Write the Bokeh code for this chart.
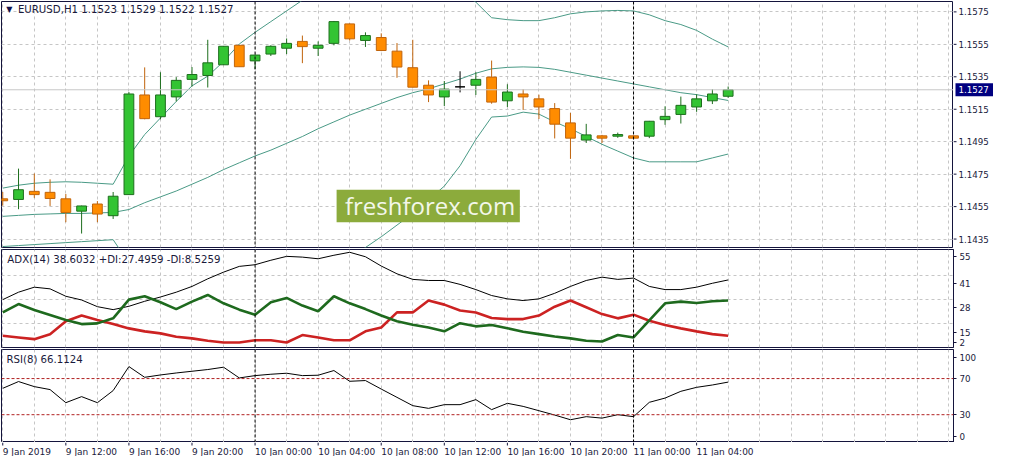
from bokeh.plotting import figure
from bokeh.layouts import column, row
from bokeh.models import (Range1d, FixedTicker, Span, Label,
                          BoxAnnotation, ColumnDataSource, Grid)
from bokeh.core.properties import value
from bokeh.embed import file_html
from bokeh.resources import INLINE

# ---------------- data (EURUSD H1, 9 Jan 08:00 .. 11 Jan 06:00) ----------------
opens = [1.14598, 1.14594, 1.14644, 1.14638, 1.14598, 1.14522, 1.14566, 1.14494, 1.14624, 1.15238,
         1.15104, 1.15226, 1.15334, 1.15358, 1.15424, 1.15544, 1.15448, 1.15490, 1.15526, 1.15568,
         1.15526, 1.15556, 1.15676, 1.15574, 1.15592, 1.15508, 1.15406, 1.15298, 1.15226, 1.15288,
         1.15298, 1.15348, 1.15202, 1.15244, 1.15214, 1.15154, 1.15066, 1.14960, 1.14986, 1.14984,
         1.14986, 1.14984, 1.15086, 1.15118, 1.15164, 1.15202, 1.15230]
highs = [1.14640, 1.14784, 1.14754, 1.14718, 1.14628, 1.14556, 1.14584, 1.14640, 1.15256, 1.15408,
         1.15378, 1.15348, 1.15410, 1.15578, 1.15540, 1.15546, 1.15486, 1.15544, 1.15586, 1.15604,
         1.15568, 1.15694, 1.15678, 1.15624, 1.15618, 1.15558, 1.15578, 1.15328, 1.15324, 1.15384,
         1.15378, 1.15450, 1.15304, 1.15274, 1.15240, 1.15188, 1.15128, 1.15060, 1.14992, 1.15006,
         1.14988, 1.15078, 1.15168, 1.15228, 1.15242, 1.15274, 1.15290]
lows = [1.14556, 1.14534, 1.14604, 1.14554, 1.14454, 1.14384, 1.14454, 1.14474, 1.14624, 1.15088,
        1.15088, 1.15198, 1.15290, 1.15284, 1.15424, 1.15412, 1.15398, 1.15478, 1.15490, 1.15434,
        1.15478, 1.15544, 1.15574, 1.15534, 1.15508, 1.15344, 1.15284, 1.15194, 1.15170, 1.15254,
        1.15238, 1.15184, 1.15164, 1.15146, 1.15090, 1.14970, 1.14844, 1.14942, 1.14942, 1.14974,
        1.14970, 1.14972, 1.15054, 1.15062, 1.15134, 1.15182, 1.15220]
closes = [1.14586, 1.14654, 1.14624, 1.14600, 1.14514, 1.14554, 1.14504, 1.14614, 1.15244, 1.15092,
          1.15238, 1.15328, 1.15364, 1.15436, 1.15538, 1.15412, 1.15484, 1.15538, 1.15556, 1.15536,
          1.15544, 1.15690, 1.15584, 1.15604, 1.15512, 1.15410, 1.15286, 1.15238, 1.15274, 1.15288,
          1.15334, 1.15194, 1.15256, 1.15226, 1.15164, 1.15058, 1.14972, 1.14992, 1.14972, 1.14994,
          1.14972, 1.15076, 1.15106, 1.15174, 1.15214, 1.15244, 1.15270]

bb_upper = [1.14664, 1.14682, 1.14694, 1.14700, 1.14703, 1.14700, 1.14694, 1.14688, 1.14862, 1.14994,
            1.15096, 1.15198, 1.15294, 1.15354, 1.15444, 1.15552, 1.15624, 1.15690, 1.15756, 1.15822,
            1.15882, 1.15942, 1.15984, 1.16002, 1.16008, 1.16008, 1.15996, 1.15960, 1.15936, 1.15870,
            1.15810, 1.15714, 1.15702, 1.15696, 1.15696, 1.15714, 1.15738, 1.15750, 1.15756, 1.15759,
            1.15756, 1.15732, 1.15696, 1.15672, 1.15636, 1.15582, 1.15534]
bb_middle = [1.14490, 1.14496, 1.14502, 1.14505, 1.14508, 1.14508, 1.14511, 1.14514, 1.14532, 1.14574,
             1.14610, 1.14646, 1.14688, 1.14730, 1.14778, 1.14820, 1.14862, 1.14898, 1.14940, 1.14982,
             1.15030, 1.15072, 1.15114, 1.15150, 1.15186, 1.15222, 1.15252, 1.15276, 1.15306, 1.15336,
             1.15372, 1.15399, 1.15408, 1.15411, 1.15408, 1.15396, 1.15378, 1.15360, 1.15342, 1.15324,
             1.15306, 1.15288, 1.15270, 1.15252, 1.15240, 1.15222, 1.15204]
bb_lower = [1.14304, 1.14310, 1.14316, 1.14322, 1.14328, 1.14334, 1.14340, 1.14346, 1.14202, 1.14154,
            1.14124, 1.14094, 1.14082, 1.14106, 1.14112, 1.14088, 1.14100, 1.14106, 1.14124, 1.14142,
            1.14178, 1.14202, 1.14244, 1.14298, 1.14364, 1.14436, 1.14508, 1.14592, 1.14676, 1.14802,
            1.14964, 1.15102, 1.15108, 1.15132, 1.15120, 1.15072, 1.15030, 1.14982, 1.14934, 1.14892,
            1.14850, 1.14826, 1.14826, 1.14826, 1.14826, 1.14850, 1.14874]

adx = [28.0, 32.0, 34.7, 33.8, 29.8, 27.8, 24.2, 22.6, 24.4, 27.1, 29.4, 32.0, 35.1, 39.2, 42.8, 45.9,
       46.8, 49.2, 51.3, 50.9, 50.0, 51.9, 53.5, 51.1, 46.1, 41.9, 38.9, 38.3, 38.3, 36.2, 33.4, 30.2,
       28.4, 27.5, 28.4, 31.4, 35.1, 38.3, 40.1, 38.9, 39.6, 35.1, 33.4, 33.4, 34.7, 36.8, 38.6]
plus_di = [21.1, 25.6, 22.4, 19.7, 17.0, 14.8, 15.2, 17.9, 28.0, 29.8, 26.6, 22.9, 26.9, 30.5, 26.0, 22.6,
           19.9, 26.6, 28.9, 24.8, 21.7, 29.8, 26.0, 22.9, 19.4, 16.3, 14.5, 13.0, 10.9, 15.3, 13.6, 14.3,
           12.6, 10.7, 9.4, 8.1, 7.1, 5.8, 5.4, 8.9, 7.6, 16.8, 26.0, 26.9, 26.2, 27.1, 27.5]
minus_di = [8.5, 7.6, 6.7, 9.4, 16.3, 19.4, 17.0, 14.8, 12.5, 10.9, 9.8, 8.0, 7.1, 5.8, 4.9, 4.9,
            6.1, 6.1, 4.9, 8.9, 7.6, 6.1, 6.1, 10.9, 13.0, 21.1, 21.1, 27.5, 25.3, 22.1, 21.1, 18.1,
            17.5, 17.5, 19.4, 24.2, 27.5, 23.9, 20.2, 17.9, 19.9, 16.6, 14.3, 12.5, 10.9, 9.4, 8.5]
rsi = [59.2, 66.7, 61.1, 57.8, 43.3, 50.0, 43.3, 56.7, 83.3, 71.4, 74.0, 76.2, 78.1, 80.0, 82.6, 70.7,
       73.3, 74.8, 75.9, 73.3, 73.7, 78.9, 67.0, 67.8, 58.4, 49.2, 40.0, 37.0, 41.1, 41.1, 46.7, 35.6,
       42.6, 39.2, 34.4, 29.6, 24.4, 27.8, 26.2, 30.0, 27.8, 43.7, 48.4, 55.9, 60.3, 62.9, 66.1]

price_ticks = [1.1435, 1.1455, 1.1475, 1.1495, 1.1515, 1.1535, 1.1555, 1.1575]
price_tick_labels = ["1.1435", "1.1455", "1.1475", "1.1495", "1.1515", "1.1535", "1.1555", "1.1575"]
date_tick_bars = [0, 4, 8, 12, 16, 20, 24, 28, 32, 36, 40, 44]
date_tick_labels = ["9 Jan 2019", "9 Jan 12:00", "9 Jan 16:00", "9 Jan 20:00", "10 Jan 00:00",
                    "10 Jan 04:00", "10 Jan 08:00", "10 Jan 12:00", "10 Jan 16:00", "10 Jan 20:00",
                    "11 Jan 00:00", "11 Jan 04:00"]
day_separator_bars = [16, 40]
adx_grid_levels = [15, 28, 41]
adx_scale_labels = ["55", "41", "28", "15", "2"]
adx_scale_pos = [51.3, 36.5, 23.5, 10.5, 5.05]
rsi_levels = [30, 70]
rsi_scale_labels = ["100", "70", "30", "0"]
rsi_scale_pos = [93.7, 70, 30, 6.2]
last_price_label = "1.1527"

title_main = "EURUSD,H1  1.1523 1.1529 1.1522 1.1527"
title_adx = "ADX(14) 38.6032 +DI:27.4959 -DI:8.5259"
title_rsi = "RSI(8) 66.1124"
watermark = "freshforex.com"

# ---------------- styling ----------------
FONT = "DejaVu Sans"
TITLE_FS = "10.2px"
AXIS_FS = "8.7px"
DATE_FS = "9px"
TXT = "#1a1a3c"
FRAME = "#14143c"
GRID = "#c6c6c6"
UP_FILL, UP_LINE = "#33c433", "#1d6e1d"
DN_FILL, DN_LINE = "#ff8c00", "#c0640c"
BAND = "#4a9a86"
FW = 952
SIDE = 40

n = len(opens)
idx = list(range(n))
fills, lines = [], []
for o, c in zip(opens, closes):
    if c > o:
        fills.append(UP_FILL); lines.append(UP_LINE)
    elif c < o:
        fills.append(DN_FILL); lines.append(DN_LINE)
    else:
        fills.append("#000000"); lines.append("#000000")
src = ColumnDataSource(dict(x=idx, o=opens, h=highs, l=lows, c=closes,
                            top=[max(a, b) for a, b in zip(opens, closes)],
                            bot=[min(a, b) for a, b in zip(opens, closes)],
                            fill=fills, line=lines,
                            up=bb_upper, mid=bb_middle, low=bb_lower,
                            adx=adx, pdi=plus_di, mdi=minus_di, rsi=rsi))

xr = Range1d(-0.08, 60.29)
vgrid_ticks = list(range(0, 61, 2))


def style_axis(ax):
    ax.axis_line_color = FRAME
    ax.major_tick_line_color = FRAME
    ax.major_tick_out = 3
    ax.major_tick_in = 0
    ax.minor_tick_line_color = None
    ax.major_label_text_font = FONT
    ax.major_label_text_font_size = AXIS_FS
    ax.major_label_text_color = TXT
    ax.major_label_standoff = 3


def base_fig(frame_h, yr, right, bottom, yaxis=True):
    p = figure(frame_width=FW, frame_height=frame_h, x_range=xr, y_range=yr,
               x_axis_location=None, y_axis_location="right" if yaxis else None,
               toolbar_location=None, output_backend="svg",
               min_border_left=1, min_border_right=right, min_border_top=1, min_border_bottom=bottom,
               background_fill_color="white", border_fill_color="white")
    p.grid.visible = False
    p.add_layout(Grid(dimension=0, ticker=FixedTicker(ticks=vgrid_ticks), grid_line_color=GRID,
                      grid_line_dash="3 3", grid_line_width=1))
    p.outline_line_color = FRAME
    p.outline_line_width = 1
    if yaxis:
        style_axis(p.yaxis[0])
    for b in day_separator_bars:
        p.add_layout(Span(location=b, dimension="height", line_color="black",
                          line_dash="3 2", line_width=1))
    return p


# ---------------- main price pane ----------------
p1 = base_fig(246, Range1d(1.14298, 1.15814), 0, 1, yaxis=False)
p1.add_layout(Grid(dimension=1, ticker=FixedTicker(ticks=price_ticks), grid_line_color=GRID,
                   grid_line_dash="3 3", grid_line_width=1))
p1.add_layout(Span(location=closes[-1], dimension="width", line_color="#c8c8c8", line_width=1))

for col in ("up", "mid", "low"):
    p1.line("x", col, source=src, line_color=BAND, line_width=1)
p1.segment(x0="x", y0="l", x1="x", y1="h", source=src, line_color="line", line_width=1)
p1.vbar(x="x", top="top", bottom="bot", width=0.62, source=src,
        fill_color="fill", line_color="line", line_width=1)

p1.add_layout(BoxAnnotation(left=21.17, right=32.79, bottom=1.14454, top=1.14654,
                            fill_color="#8cab3c", fill_alpha=1.0, line_color=None))
p1.add_layout(Label(x=27.1, y=1.14556, text=watermark, text_align="center", text_baseline="middle",
                    text_font="Open Sans", text_font_size="24px", text_color="#f3f7ea"))
p1.add_layout(Label(x=0.42, y=1.15762, text="\u25bc", text_align="center", text_baseline="middle",
                    text_font="DejaVu Sans", text_font_size="8px", text_color="#10104a"))
p1.add_layout(Label(x=0.96, y=1.15762, text=title_main, text_align="left", text_baseline="middle",
                    text_font=FONT, text_font_size=TITLE_FS, text_color=TXT))

# price scale strip to the right of the main pane (ticks, labels, last-price box)
s1 = figure(frame_width=SIDE, frame_height=246, x_range=Range1d(0, SIDE), y_range=p1.y_range,
            x_axis_location=None, y_axis_location=None, toolbar_location=None, output_backend="svg",
            min_border_left=0, min_border_right=0, min_border_top=1, min_border_bottom=1,
            background_fill_color="white", border_fill_color="white")
s1.grid.visible = False
s1.outline_line_color = None
s1.segment(x0=0, x1=3, y0=price_ticks, y1=price_ticks, line_color=FRAME, line_width=1)
s1.text(x=5, y=price_ticks, text=price_tick_labels, text_align="left", text_baseline="middle",
        text_font=value(FONT), text_font_size=value(AXIS_FS), text_color=TXT)
s1.rect(x=21, y=[closes[-1]], width=38, height=13, width_units="screen", height_units="screen",
        fill_color="#000080", line_color=None)
s1.text(x=5, y=[closes[-1]], text=[last_price_label], text_align="left", text_baseline="middle",
        text_font=value(FONT), text_font_size=value(AXIS_FS), text_color="white")

# ---------------- ADX pane ----------------
p2 = base_fig(98, Range1d(2.2, 55), SIDE, 1)
p2.add_layout(Grid(dimension=1, ticker=FixedTicker(ticks=adx_grid_levels), grid_line_color=GRID,
                   grid_line_dash="3 3", grid_line_width=1))
p2.yaxis[0].ticker = FixedTicker(ticks=adx_scale_pos)
p2.yaxis[0].major_label_overrides = dict(zip(adx_scale_pos, adx_scale_labels))
p2.line("x", "adx", source=src, line_color="black", line_width=1)
p2.line("x", "mdi", source=src, line_color="#cc2222", line_width=2.6)
p2.line("x", "pdi", source=src, line_color="#1e6a1e", line_width=2.6)
p2.add_layout(Label(x=0.29, y=49.85, text=title_adx, text_align="left", text_baseline="middle",
                    text_font=FONT, text_font_size=TITLE_FS, text_color=TXT))

# ---------------- RSI pane ----------------
p3 = base_fig(93, Range1d(-0.8, 102.2), SIDE, 0)
p3.yaxis[0].ticker = FixedTicker(ticks=rsi_scale_pos)
p3.yaxis[0].major_label_overrides = dict(zip(rsi_scale_pos, rsi_scale_labels))
for lv in rsi_levels:
    p3.add_layout(Span(location=lv, dimension="width", line_color="#b02020",
                       line_dash="3 2", line_width=1))
p3.line("x", "rsi", source=src, line_color="black", line_width=1)
p3.add_layout(Label(x=0.23, y=90.7, text=title_rsi, text_align="left", text_baseline="middle",
                    text_font=FONT, text_font_size=TITLE_FS, text_color=TXT))

# ---------------- time scale (labels start at their tick, as in MT4) ----------------
pd_ = figure(frame_width=FW, frame_height=14, x_range=xr, y_range=Range1d(0, 14),
             x_axis_location=None, y_axis_location=None, toolbar_location=None, output_backend="svg",
             min_border_left=1, min_border_right=SIDE, min_border_top=0, min_border_bottom=0,
             background_fill_color="white", border_fill_color="white")
pd_.grid.visible = False
pd_.outline_line_color = None
pd_.segment(x0=date_tick_bars, x1=date_tick_bars, y0=14, y1=11, line_color=FRAME, line_width=1)
pd_.text(x=date_tick_bars, y=5, text=date_tick_labels, text_align="left", text_baseline="middle",
         x_offset=0, text_font=value(FONT), text_font_size=value(DATE_FS), text_color=TXT)

layout = column(row(p1, s1, spacing=0), p2, p3, pd_, spacing=0)
open("out.html", "w").write(file_html(layout, INLINE))
